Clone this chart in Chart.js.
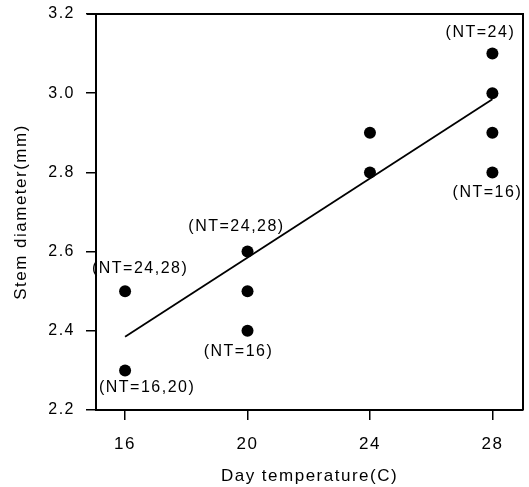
<!DOCTYPE html>
<html><head><meta charset="utf-8">
<style>html,body{margin:0;padding:0;background:#fff;overflow:hidden}#wrap{width:529px;height:487px;position:relative}</style>
<script src="https://cdn.jsdelivr.net/npm/chart.js@4/dist/chart.umd.min.js"></script>
</head><body><div id="wrap"><canvas id="c"></canvas></div>
<script>
// ---- data ----
const dayTemp = [16, 16, 20, 20, 20, 24, 24, 28, 28, 28, 28];
const stemDiameter = [2.5, 2.3, 2.6, 2.5, 2.4, 2.9, 2.8, 3.1, 3.0, 2.9, 2.8];
const fitLineX = [16, 28];
const fitLineY = [2.385, 2.985];
const xTicks = [16, 20, 24, 28];
const yTicks = [2.2, 2.4, 2.6, 2.8, 3.0, 3.2];
const noteText = ['(NT=24,28)', '(NT=16,20)', '(NT=24,28)', '(NT=16)', '(NT=24)', '(NT=16)'];
const noteX = [16, 16, 20, 20, 28, 28];
const noteY = [2.5, 2.3, 2.6, 2.4, 3.1, 2.8];

// ---- styles (pixel offsets of the notes from their points) ----
const noteOffsets = [[15, -23], [22, 17], [-11, -25], [-9, 21], [-12, -21], [-5, 20]];
const FONT = '"Liberation Sans", Arial, sans-serif';

const spacingPlugin = {
  id: 'spacing',
  beforeDraw(chart) { chart.ctx.letterSpacing = '1.5px'; }
};
const framePlugin = {
  id: 'frame',
  afterDraw(chart) {
    const {ctx, chartArea: a} = chart;
    ctx.save();
    ctx.strokeStyle = '#000';
    ctx.lineWidth = 2;
    ctx.beginPath();
    ctx.moveTo(a.left - 9, a.top);
    ctx.lineTo(a.right, a.top);
    ctx.lineTo(a.right, a.bottom);
    ctx.stroke();
    ctx.restore();
  }
};
const notePlugin = {
  id: 'notes',
  afterDatasetsDraw(chart) {
    const {ctx, scales: {x, y}} = chart;
    ctx.save();
    ctx.font = '16px ' + FONT;
    ctx.fillStyle = '#000';
    ctx.textAlign = 'center';
    ctx.textBaseline = 'middle';
    noteText.forEach((t, i) => {
      const px = x.getPixelForValue(noteX[i]) + noteOffsets[i][0];
      const py = y.getPixelForValue(noteY[i]) + noteOffsets[i][1];
      ctx.fillText(t, px, py);
    });
    ctx.restore();
  }
};

new Chart(document.getElementById('c'), {
  data: {
    datasets: [
      {
        type: 'scatter',
        data: dayTemp.map((v, i) => ({x: v, y: stemDiameter[i]})),
        backgroundColor: '#000',
        borderWidth: 0,
        pointRadius: 6
      },
      {
        type: 'line',
        data: fitLineX.map((v, i) => ({x: v, y: fitLineY[i]})),
        borderColor: '#000',
        borderWidth: 1.8,
        pointRadius: 0,
        fill: false
      }
    ]
  },
  options: {
    responsive: true,
    maintainAspectRatio: false,
    animation: false,
    devicePixelRatio: 1,
    layout: {padding: {top: 14, right: 5, left: 0, bottom: 0}},
    plugins: {legend: {display: false}, tooltip: {enabled: false}},
    scales: {
      x: {
        type: 'linear',
        min: 15.05,
        max: 29,
        afterBuildTicks: s => { s.ticks = xTicks.map(v => ({value: v})); },
        afterFit: s => { s.height = 77; s.paddingLeft = 0; s.paddingRight = 0; },
        ticks: {color: '#000', font: {family: FONT, size: 17}, padding: 14, callback: v => String(v)},
        grid: {display: true, drawOnChartArea: false, drawTicks: true, tickLength: 10, color: '#000', lineWidth: 1.5},
        border: {display: true, color: '#000', width: 2},
        title: {display: true, text: 'Day temperature(C)', color: '#000', font: {family: FONT, size: 17}, padding: {top: 0, bottom: 0}}
      },
      y: {
        type: 'linear',
        min: 2.2,
        max: 3.2,
        afterBuildTicks: s => { s.ticks = yTicks.map(v => ({value: v})); },
        afterFit: s => { s.width = 96; s.paddingTop = 0; s.paddingBottom = 0; },
        ticks: {color: '#000', font: {family: FONT, size: 16}, padding: 11, callback: v => Number(v).toFixed(1)},
        grid: {display: true, drawOnChartArea: false, drawTicks: true, tickLength: 10, color: '#000', lineWidth: 1.5},
        border: {display: true, color: '#000', width: 2},
        title: {display: true, text: 'Stem diameter(mm)', color: '#000', font: {family: FONT, size: 17}, padding: {top: 11, bottom: 0}}
      }
    }
  },
  plugins: [spacingPlugin, framePlugin, notePlugin]
});
</script>
</body></html>
